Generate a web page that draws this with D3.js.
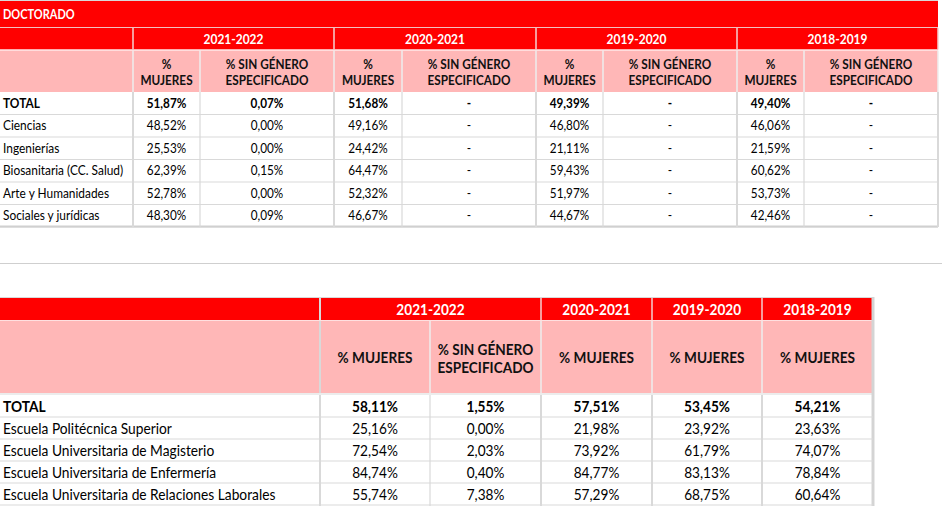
<!DOCTYPE html>
<html>
<head>
<meta charset="utf-8">
<script src="https://cdn.jsdelivr.net/npm/d3@7"></script>
<style>
  html, body { margin: 0; padding: 0; background: #fff; }
  svg { display: block; }
</style>
</head>
<body>
<svg id="chart" width="942" height="506"></svg>
<script>
// ---------- DATA ----------
const t1Title = "DOCTORADO";
const t1Years = ["2021-2022", "2020-2021", "2019-2020", "2018-2019"];
const subMujeres = ["%", "MUJERES"];
const subSinGenero = ["% SIN GÉNERO", "ESPECIFICADO"];
const t1Rows = ["TOTAL", "Ciencias", "Ingenierías", "Biosanitaria (CC. Salud)", "Arte y Humanidades", "Sociales y jurídicas"];
const t1Mujeres2122 = [51.87, 48.52, 25.53, 62.39, 52.78, 48.30];
const t1SinGen2122  = [0.07, 0.00, 0.00, 0.15, 0.00, 0.09];
const t1Mujeres2021 = [51.68, 49.16, 24.42, 64.47, 52.32, 46.67];
const t1SinGen2021  = [null, null, null, null, null, null];
const t1Mujeres1920 = [49.39, 46.80, 21.11, 59.43, 51.97, 44.67];
const t1SinGen1920  = [null, null, null, null, null, null];
const t1Mujeres1819 = [49.40, 46.06, 21.59, 60.62, 53.73, 42.46];
const t1SinGen1819  = [null, null, null, null, null, null];

const t2Years = ["2021-2022", "2020-2021", "2019-2020", "2018-2019"];
const t2Rows = ["TOTAL", "Escuela Politécnica Superior", "Escuela Universitaria de Magisterio", "Escuela Universitaria de Enfermería", "Escuela Universitaria de Relaciones Laborales"];
const t2Mujeres2122 = [58.11, 25.16, 72.54, 84.74, 55.74];
const t2SinGen2122  = [1.55, 0.00, 2.03, 0.40, 7.38];
const t2Mujeres2021 = [57.51, 21.98, 73.92, 84.77, 57.29];
const t2Mujeres1920 = [53.45, 23.92, 61.79, 83.13, 68.75];
const t2Mujeres1819 = [54.21, 23.63, 74.07, 78.84, 60.64];

// ---------- STYLE ----------
const RED = "#ff0000";
const PINK = "#ffb7b7";
const GRID = "#d9d9d9";
const FONT = "Lato, 'Open Sans', sans-serif";
const SX = 0.92;

const svg = d3.select("#chart");
const f2 = d3.format(".2f");
const pct = v => v == null ? "-" : f2(v).replace(".", ",") + "%";

function txt(g, x, y, s, o) {
  o = o || {};
  g.append("text")
    .attr("transform", `translate(${x},${y}) scale(${o.sx || SX},1)`)
    .attr("text-anchor", o.anchor || "middle")
    .attr("dominant-baseline", "central")
    .attr("font-family", FONT)
    .attr("font-size", o.size || 13)
    .attr("font-weight", o.bold ? "bold" : "normal")
    .attr("fill", o.fill || "#000")
    .text(s);
}
function rect(g, x0, y0, x1, y1, fill) {
  g.append("rect").attr("x", x0).attr("y", y0).attr("width", x1 - x0).attr("height", y1 - y0).attr("fill", fill);
}
function line(g, x0, y0, x1, y1, stroke, w) {
  g.append("line").attr("x1", x0).attr("y1", y0).attr("x2", x1).attr("y2", y1)
    .attr("stroke", stroke).attr("stroke-width", w || 1);
}

// ================= TABLE 1 =================
{
  const g = svg.append("g");
  const colW = [133, 67, 134, 68, 134, 67, 134, 67, 134];
  const edges = [0];
  colW.forEach(w => edges.push(edges[edges.length - 1] + w));
  const colIdx = d3.range(colW.length);
  const xL = d3.scaleOrdinal().domain(colIdx).range(edges.slice(0, -1));
  const xR = d3.scaleOrdinal().domain(colIdx).range(edges.slice(1));
  const xC = i => (xL(i) + xR(i)) / 2;
  const right = edges[edges.length - 1];

  const yTitle = [1, 27], yYear = [28, 49.5], ySub = [50.5, 92];
  const yRow = d3.scaleBand().domain(d3.range(t1Rows.length)).range([92, 227]);
  const S1 = 12.8;

  rect(g, 0, yTitle[0], right, yTitle[1], RED);
  txt(g, 3, (yTitle[0] + yTitle[1]) / 2, t1Title, { anchor: "start", bold: true, fill: "#fff", size: 12.5, sx: 0.88 });
  rect(g, 0, yYear[0], right, yYear[1], RED);
  t1Years.forEach((yr, k) => {
    const a = 1 + 2 * k, b = 2 + 2 * k;
    txt(g, (xL(a) + xR(b)) / 2, (yYear[0] + yYear[1]) / 2 + 0.5, yr, { bold: true, fill: "#fff", size: 13 });
  });
  rect(g, 0, ySub[0], right, ySub[1], PINK);
  t1Years.forEach((yr, k) => {
    const a = 1 + 2 * k, b = 2 + 2 * k;
    txt(g, xC(a), 64, subMujeres[0], { bold: true, size: S1, fill: "#111" });
    txt(g, xC(a), 80, subMujeres[1], { bold: true, size: S1, fill: "#111" });
    txt(g, xC(b), 64, subSinGenero[0], { bold: true, size: S1, fill: "#111" });
    txt(g, xC(b), 80, subSinGenero[1], { bold: true, size: S1, fill: "#111" });
  });

  line(g, 0, 0.5, right, 0.5, GRID);
  line(g, 0, 27.5, right, 27.5, "#f2c0c0", 1);
  line(g, 0, 50, right, 50, "#ffe0e0", 1);
  [1, 3, 5, 7, 9].forEach(i => line(g, edges[i], yYear[0], edges[i], yYear[1], "#f5d0d0", 1.5));
  colIdx.slice(1).concat([9]).forEach(i => line(g, edges[i], ySub[0], edges[i], ySub[1], "#eeeeee", 1.5));

  const cols = [t1Mujeres2122, t1SinGen2122, t1Mujeres2021, t1SinGen2021, t1Mujeres1920, t1SinGen1920, t1Mujeres1819, t1SinGen1819];
  t1Rows.forEach((name, r) => {
    const cy = yRow(r) + yRow.bandwidth() / 2;
    const bold = r === 0;
    txt(g, 3, cy, name, { anchor: "start", bold, size: S1, sx: 0.93 });
    cols.forEach((arr, c) => {
      txt(g, xC(c + 1), cy, pct(arr[r]), { bold, size: S1 });
    });
  });
  t1Rows.forEach((_, r) => line(g, 0, yRow(r) + yRow.bandwidth(), right, yRow(r) + yRow.bandwidth(), GRID, 1.2));
  line(g, 0, 226.5, right, 226.5, "#d0d0d0", 2);
  edges.slice(1).forEach((e, i) => {
    const thick = (i % 2 === 0);
    line(g, e, 92, e, 227, GRID, thick ? 2 : 1.2);
  });
}

// separator
line(svg, 0, 263.5, 942, 263.5, "#cfcfcf", 1);

// ================= TABLE 2 =================
{
  const g = svg.append("g");
  const colW = [320, 110, 111, 111, 110, 111];
  const edges = [0];
  colW.forEach(w => edges.push(edges[edges.length - 1] + w));
  const colIdx = d3.range(colW.length);
  const xL = d3.scaleOrdinal().domain(colIdx).range(edges.slice(0, -1));
  const xR = d3.scaleOrdinal().domain(colIdx).range(edges.slice(1));
  const xC = i => (xL(i) + xR(i)) / 2;
  const right = edges[edges.length - 1];

  const yYear = [298, 320], ySub = [321, 393];
  const yRow = d3.scaleBand().domain(d3.range(t2Rows.length)).range([395, 505]);
  const S2 = 14.5, SX2 = 0.94;

  rect(g, 0, yYear[0], right, yYear[1], RED);
  const yearSpans = [[1, 2], [3, 3], [4, 4], [5, 5]];
  t2Years.forEach((yr, k) => {
    const [a, b] = yearSpans[k];
    txt(g, (xL(a) + xR(b)) / 2, (yYear[0] + yYear[1]) / 2 + 0.5, yr, { bold: true, fill: "#fff", size: S2, sx: SX2 });
  });
  rect(g, 0, ySub[0], right, ySub[1], PINK);
  const subs = [["% MUJERES"], subSinGenero, ["% MUJERES"], ["% MUJERES"], ["% MUJERES"]];
  subs.forEach((lines, k) => {
    const cx = xC(k + 1);
    if (lines.length === 1) txt(g, cx, 357.5, lines[0], { bold: true, size: S2, fill: "#111", sx: SX2 });
    else {
      txt(g, cx, 349, lines[0], { bold: true, size: S2, fill: "#111", sx: SX2 });
      txt(g, cx, 367, lines[1], { bold: true, size: S2, fill: "#111", sx: SX2 });
    }
  });

  line(g, 0, 297.5, right, 297.5, GRID, 1);
  line(g, 0, 320.5, right, 320.5, "#ffe0e0", 1);
  line(g, 0, 394, right, 394, "#ececec", 2);
  [1, 3, 4, 5].forEach(i => line(g, edges[i], yYear[0], edges[i], yYear[1], i === 1 ? "#d9d9d9" : "#f5d0d0", i === 1 ? 2 : 1.5));
  [1, 2, 3, 4, 5].forEach(i => line(g, edges[i], ySub[0], edges[i], ySub[1], i === 1 ? "#d9d9d9" : "#eeeeee", i === 1 ? 2 : 1.5));
  line(g, right, 297, right, 506, "#d4d4d4", 3);

  const cols = [t2Mujeres2122, t2SinGen2122, t2Mujeres2021, t2Mujeres1920, t2Mujeres1819];
  t2Rows.forEach((name, r) => {
    const cy = yRow(r) + yRow.bandwidth() / 2;
    const bold = r === 0;
    txt(g, 3, cy, name, { anchor: "start", bold, size: S2, sx: 0.95 });
    cols.forEach((arr, c) => txt(g, xC(c + 1), cy, pct(arr[r]), { bold, size: S2, sx: SX2 }));
  });
  t2Rows.forEach((_, r) => line(g, 0, yRow(r) + yRow.bandwidth(), right, yRow(r) + yRow.bandwidth(), GRID, 1.2));
  [1, 2, 3, 4, 5].forEach(i => line(g, edges[i], 395, edges[i], 506, GRID, (i === 1 || i === 3 || i === 4 || i === 5) ? 2 : 1.2));
}
</script>
</body>
</html>
